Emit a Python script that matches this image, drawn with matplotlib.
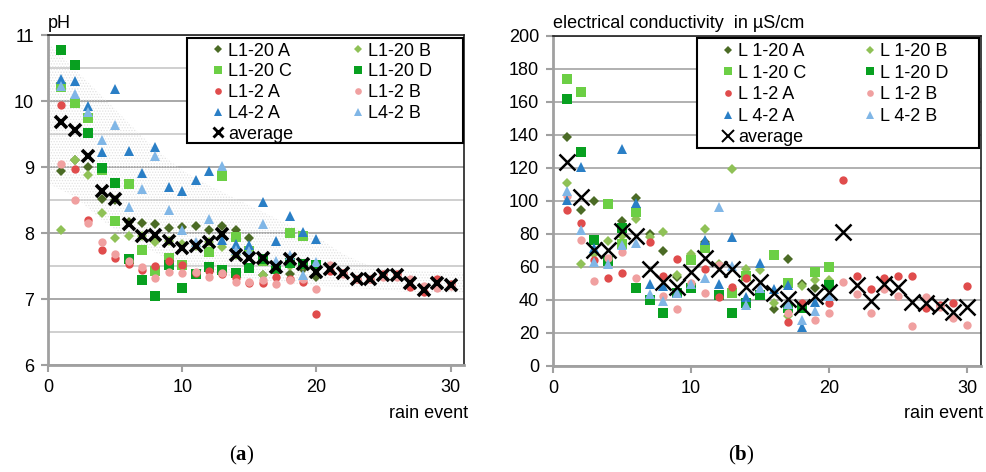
import numpy as np
import matplotlib
matplotlib.use("Agg")
import matplotlib.pyplot as plt
from matplotlib.lines import Line2D
from matplotlib.patches import Rectangle

plt.rcParams['font.family'] = ['Liberation Sans', 'DejaVu Sans']
plt.rcParams['mathtext.fontset'] = 'custom'
plt.rcParams['mathtext.bf'] = 'Liberation Serif:bold'
plt.rcParams['mathtext.rm'] = 'Liberation Serif'
plt.rcParams['hatch.linewidth'] = 0.6

nan = np.nan
events20 = list(range(1, 21))
events30 = list(range(1, 31))

# ---------------- pH data ----------------
pH_L120A = [8.94, 9.10, 9.00, 8.51, 8.50, 8.17, 8.15, 8.14, 8.07, 8.09, 8.10, 8.05, 8.10, 8.04, 7.93, 7.37, 7.48, 7.38, 7.45, 7.34]
pH_L120B = [8.05, 9.11, 8.88, 8.31, 7.92, 7.96, 7.95, 7.87, 7.88, 7.84, 7.80, 7.87, 7.79, 7.66, 7.70, 7.36, 7.45, 7.50, 7.52, 7.45]
pH_L120C = [10.21, 9.97, 9.74, 8.96, 8.18, 8.74, 7.75, 7.43, 7.62, 7.52, 7.38, 7.71, 8.87, 7.94, 7.72, 7.58, 7.45, 8.00, 7.95, 7.51]
pH_L120D = [10.78, 10.54, 9.51, 8.99, 8.76, 7.61, 7.29, 7.05, 7.52, 7.16, 7.38, 7.48, 7.44, 7.39, 7.47, 7.60, 7.45, 7.55, 7.53, 7.52]
pH_L12A = [9.94, 8.97, 8.20, 7.75, 7.62, 7.53, 7.44, 7.50, 7.57, 7.52, 7.40, 7.42, 7.38, 7.32, 7.25, 7.25, 7.34, 7.30, 7.26, 6.77,
           7.42, 7.40, 7.30, 7.30, 7.38, 7.38, 7.18, 7.11, 7.31, 7.22]
pH_L12B = [9.04, 8.50, 8.15, 7.87, 7.68, 7.57, 7.49, 7.32, 7.41, 7.39, 7.41, 7.33, 7.39, 7.26, 7.26, 7.29, 7.22, 7.29, 7.30, 7.15,
           7.52, 7.38, 7.30, 7.30, 7.33, 7.33, 7.31, 7.19, 7.17, 7.20]
pH_L42A = [10.34, 10.30, 9.93, 9.23, 10.18, 9.24, 8.91, 9.31, 8.69, 8.63, 8.81, 8.94, 7.90, 7.83, 7.82, 8.47, 7.88, 8.26, 8.01, 7.91]
pH_L42B = [10.23, 10.11, 9.84, 9.41, 9.63, 8.40, 8.67, 9.16, 8.35, 8.05, 7.86, 8.21, 9.02, 7.75, 7.73, 8.14, 7.58, 7.66, 7.37, 7.56]
pH_avg = [9.68, 9.56, 9.16, 8.64, 8.52, 8.14, 7.96, 7.97, 7.88, 7.77, 7.81, 7.87, 7.98, 7.66, 7.62, 7.62, 7.49, 7.61, 7.53, 7.41,
          7.46, 7.39, 7.30, 7.30, 7.36, 7.36, 7.24, 7.14, 7.24, 7.21]

band_x = [0, 2, 4, 6, 8, 10, 12, 14, 16, 18, 20, 22, 24, 26, 28, 31]
band_hi = [10.88, 10.48, 10.08, 9.67, 9.27, 8.95, 8.72, 8.52, 8.32, 8.12, 7.95, 7.68, 7.50, 7.45, 7.42, 7.40]
band_lo = [8.75, 8.55, 8.20, 7.90, 7.70, 7.50, 7.40, 7.32, 7.28, 7.24, 7.20, 7.18, 7.15, 7.12, 7.10, 7.10]

# ---------------- EC data ----------------
EC_L120A = [138.9, 94.6, 100.0, nan, 87.9, 101.4, 80.1, 69.4, 54.0, nan, 75.0, nan, nan, nan, nan, 34.2, 64.8, 49.3, 47.3, nan]
EC_L120B = [110.7, 61.8, 67.4, 75.5, 78.9, 89.1, 78.0, 80.9, 54.7, 68.0, 83.1, 61.4, 119.1, 58.4, 57.7, 38.2, 30.2, 48.3, 51.9, 51.9]
EC_L120C = [173.6, 165.7, nan, 98.2, 74.0, 93.2, nan, nan, nan, 63.8, 71.4, nan, 43.9, 54.3, nan, 66.8, 50.3, nan, 56.9, 60.0]
EC_L120D = [161.5, 129.4, 75.9, 63.4, 83.5, 47.3, 39.8, 32.2, 44.0, 47.3, nan, 42.7, 31.8, 38.2, 42.9, nan, 34.8, 35.0, nan, 48.7]
EC_L12A = [94.2, 86.5, 63.8, 52.9, 55.9, nan, 75.0, 54.3, 64.4, nan, 58.4, 41.6, 47.7, 53.3, nan, nan, 26.2, 37.8, nan, 38.2,
           112.3, 54.3, 46.7, 53.3, 54.3, 54.3, 35.2, 37.0, 37.8, 48.3]
EC_L12B = [103.0, 75.9, 51.3, 65.4, 69.0, 52.9, nan, 42.0, 34.6, 50.0, 43.9, 60.8, nan, nan, nan, nan, 32.2, nan, 27.8, 32.2,
           50.7, 43.7, 32.2, 46.7, 42.3, 24.1, 41.6, 35.4, 29.2, 24.7]
EC_L42A = [100.2, 120.3, 71.4, nan, 131.5, 98.6, 49.3, 48.3, 44.3, nan, 75.9, 49.3, 78.1, 41.9, 62.0, 46.7, 48.7, 23.5, 38.6, nan]
EC_L42B = [105.6, 82.5, 62.8, 61.4, 73.4, 74.4, 43.7, 39.2, 44.3, 49.3, 52.9, 96.2, 60.4, 36.6, 47.3, nan, 37.2, 27.8, 33.2, 42.3]
EC_avg = [123.5, 102.4, 70.0, 70.0, 81.9, 78.5, 58.8, 50.7, 47.9, 56.9, 65.4, 58.4, 58.8, 47.5, 51.0, 44.3, 40.2, 35.6, 42.3, 44.9,
          80.9, 48.7, 39.2, 49.3, 47.7, 38.6, 38.2, 36.2, 32.6, 35.6]

labels_a = ["L1-20 A", "L1-20 B", "L1-20 C", "L1-20 D", "L1-2 A", "L1-2 B", "L4-2 A", "L4-2 B", "average"]
labels_b = ["L 1-20 A", "L 1-20 B", "L 1-20 C", "L 1-20 D", "L 1-2 A", "L 1-2 B", "L 4-2 A", "L 4-2 B", "average"]

styles = [
    dict(marker='D', color='#4b6b25', ms=5.5),
    dict(marker='D', color='#8fc156', ms=5.5),
    dict(marker='s', color='#6ccf45', ms=6.5),
    dict(marker='s', color='#08a020', ms=6.5),
    dict(marker='o', color='#e04c4c', ms=6),
    dict(marker='o', color='#f0a0a0', ms=6),
    dict(marker='^', color='#2a7fc6', ms=7.5),
    dict(marker='^', color='#80b6e6', ms=7.5),
]

fig = plt.figure(figsize=(9.86, 4.72), dpi=100)
axA = fig.add_axes([48/986, 1-365/472, (464-48)/986, 330/472])
axB = fig.add_axes([553/986, 1-365.7/472, (981-553)/986, 330/472])


def style_axes(ax):
    for s in ['left', 'bottom']:
        ax.spines[s].set_color('#a0a0a0')
        ax.spines[s].set_linewidth(2.0)
    for s in ['top', 'right']:
        ax.spines[s].set_color('#202020')
        ax.spines[s].set_linewidth(1.2)
    ax.tick_params(axis='both', labelsize=13, colors='#a0a0a0', labelcolor='black',
                   length=5, width=1.5, pad=5)
    ax.set_xlim(0, 31)
    ax.set_xticks([0, 10, 20, 30])
    ax.set_axisbelow(True)


def draw(ax, data, avg, labels, xms, xlw, frame, anchor, lspace, cspace):
    handles = []
    for i, d in enumerate(data):
        x = events30 if len(d) == 30 else events20
        st = styles[i]
        ax.plot(x, d, ls='none', marker=st['marker'], color=st['color'], ms=st['ms'],
                mec=st['color'], mew=0, zorder=3)
        handles.append(Line2D([], [], ls='none', marker=st['marker'], color=st['color'],
                              ms=st['ms'] * 0.8, mew=0, label=labels[i]))
    ax.plot(events30, avg, ls='none', marker='x', color='black', ms=xms, mew=xlw, zorder=4)
    handles.append(Line2D([], [], ls='none', marker='x', color='black', ms=xms * 0.75,
                          mew=xlw * 0.8, label=labels[8]))
    # legend frame (fixed box)
    x0, y0, x1, y1 = frame
    ax.add_patch(Rectangle((x0, y0), x1 - x0, y1 - y0, transform=ax.transAxes,
                           facecolor='white', edgecolor='black', lw=1.5, zorder=9,
                           clip_on=False))
    order = [0, 2, 4, 6, 8, 1, 3, 5, 7]
    h = [handles[k] for k in order]
    leg = ax.legend(handles=h, ncol=2, loc='upper left', bbox_to_anchor=anchor,
                    fontsize=13, frameon=False, handlelength=1.0, handletextpad=0.06,
                    labelspacing=lspace, columnspacing=cspace, borderpad=0,
                    borderaxespad=0)
    leg.set_zorder(10)
    return leg


# ----- panel (a) -----
style_axes(axA)
axA.set_ylim(6, 11)
axA.set_yticks([6, 7, 8, 9, 10, 11])
axA.set_yticks(np.arange(6.5, 11, 1.0), minor=True)
axA.tick_params(axis='y', which='minor', length=0)
axA.grid(True, axis='y', which='major', color='#a8a8a8', lw=1.4)
axA.grid(True, axis='y', which='minor', color='#cfcfcf', lw=1.4)
axA.fill_between(band_x, band_lo, band_hi, facecolor='none', edgecolor='#e2e2e2',
                 hatch='......', linewidth=0, zorder=0.8)
draw(axA, [pH_L120A, pH_L120B, pH_L120C, pH_L120D, pH_L12A, pH_L12B, pH_L42A, pH_L42B],
     pH_avg, labels_a, 9, 2.6,
     frame=(0.3334, 0.6736, 0.998, 0.990), anchor=(0.387, 0.977), lspace=0.21, cspace=3.1)
axA.text(0.0, 1.01, 'pH', transform=axA.transAxes, ha='left', va='bottom', fontsize=13)
axA.text(1.01, -0.12, 'rain event', transform=axA.transAxes, ha='right', va='top', fontsize=13)

# ----- panel (b) -----
style_axes(axB)
axB.set_ylim(0, 200)
axB.set_yticks(np.arange(0, 201, 20))
axB.grid(True, axis='y', which='major', color='#b0b0b0', lw=1.4)
draw(axB, [EC_L120A, EC_L120B, EC_L120C, EC_L120D, EC_L12A, EC_L12B, EC_L42A, EC_L42B],
     EC_avg, labels_b, 12, 1.8,
     frame=(0.337, 0.659, 0.996, 0.994), anchor=(0.3886, 0.977), lspace=0.25, cspace=3.0)
axB.text(0.0, 1.01, 'electrical conductivity  in µS/cm', transform=axB.transAxes,
         ha='left', va='bottom', fontsize=13)
axB.text(1.005, -0.12, 'rain event', transform=axB.transAxes, ha='right', va='top', fontsize=13)

fig.text(242/986, 1-455/472, r'($\mathbf{a}$)', ha='center', va='center', fontsize=15,
         family='Liberation Serif')
fig.text(741/986, 1-455/472, r'($\mathbf{b}$)', ha='center', va='center', fontsize=15,
         family='Liberation Serif')

fig.savefig('out.png', dpi=100)
